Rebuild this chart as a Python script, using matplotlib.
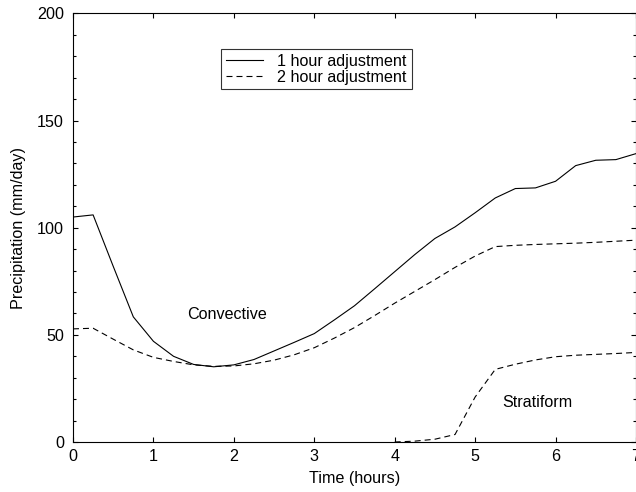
import matplotlib
matplotlib.use("Agg")
import matplotlib.pyplot as plt
from matplotlib.ticker import MultipleLocator

plt.rcParams['font.family'] = ['Liberation Sans', 'DejaVu Sans']
plt.rcParams['lines.scale_dashes'] = False

t_conv = [0, 0.25, 0.5, 0.75, 1, 1.25, 1.5, 1.75, 2, 2.25, 2.5, 2.75, 3, 3.25, 3.5,
          3.75, 4, 4.25, 4.5, 4.75, 5, 5.25, 5.5, 5.75, 6, 6.25, 6.5, 6.75, 7]
conv_1h = [105, 106, 82, 58.4, 47, 40, 36.2, 35.1, 36, 38.5, 42.5, 46.5, 50.6, 57, 63.6,
           71.5, 79.5, 87.5, 95, 100.4, 107, 113.9, 118.3, 118.6, 121.7, 129, 131.5, 131.8, 134.6]
conv_2h = [52.8, 53.1, 48, 43, 39.5, 37.6, 36, 35.3, 35.5, 36.5, 38.2, 40.7, 44, 48.5, 53.4,
           59, 64.8, 70.3, 75.8, 81.5, 86.8, 91.2, 91.8, 92.2, 92.5, 92.8, 93.2, 93.7, 94.2]

t_strat = [4, 4.25, 4.5, 4.75, 5, 5.25, 5.5, 5.75, 6, 6.25, 6.5, 6.75, 7]
strat_2h = [0, 0.4, 1.3, 3.5, 21, 33.9, 36.3, 38.3, 39.8, 40.5, 40.9, 41.3, 41.8]

x_ticks = [0, 1, 2, 3, 4, 5, 6, 7]
y_ticks = [0, 50, 100, 150, 200]

FS = 11.6

fig = plt.figure(figsize=(6.36, 4.92), dpi=100)
ax = fig.add_axes([73 / 636, 50 / 492, 563 / 636, 428.5 / 492])

dash = (0, (4.3, 2.9))
ax.plot(t_conv, conv_1h, color='black', lw=0.8, label='1 hour adjustment')
ax.plot(t_conv, conv_2h, color='black', lw=0.8, ls=dash, label='2 hour adjustment')
ax.plot(t_strat, strat_2h, color='black', lw=0.8, ls=dash)

ax.set_xlim(0, 7)
ax.set_ylim(0, 200)
ax.set_xticks(x_ticks)
ax.set_yticks(y_ticks)
ax.yaxis.set_minor_locator(MultipleLocator(10))
ax.tick_params(which='both', direction='in', top=True, right=True, labelsize=FS,
               width=0.8, colors='black')
ax.tick_params(which='major', length=3.6)
ax.tick_params(axis='y', which='major', pad=6.5)
ax.tick_params(axis='x', which='major', pad=5)
ax.tick_params(which='minor', length=2.4)
ax.tick_params(axis='x', which='minor', top=False, bottom=False)
for s in ax.spines.values():
    s.set_linewidth(0.8)

ax.set_xlabel('Time (hours)', fontsize=FS, labelpad=5)
ax.set_ylabel('Precipitation (mm/day)', fontsize=FS, labelpad=8)

ax.text(1.91, 59.7, 'Convective', fontsize=FS, ha='center', va='center')
ax.text(5.78, 18.3, 'Stratiform', fontsize=FS, ha='center', va='center')

leg = ax.legend(loc='upper left', bbox_to_anchor=((221 - 73) / 563, (442 - 49) / 428.5),
                fontsize=FS, frameon=True, fancybox=False, edgecolor='black',
                handlelength=2.3, handletextpad=0.9, borderpad=0.3, labelspacing=0.05,
                borderaxespad=0)
leg.get_frame().set_linewidth(0.8)

fig.savefig('out.png', dpi=100)
